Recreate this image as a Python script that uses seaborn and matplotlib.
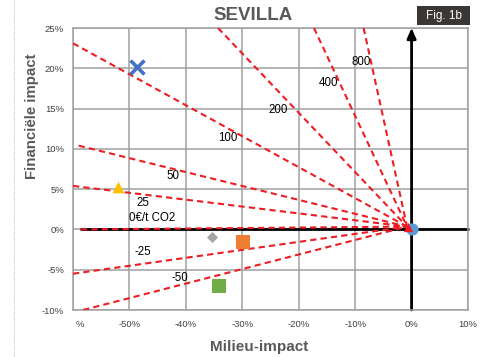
import matplotlib
matplotlib.use("Agg")
import matplotlib.pyplot as plt
import matplotlib.transforms as mtransforms
from matplotlib.lines import Line2D
from matplotlib.patches import Rectangle
import seaborn as sns
import pandas as pd

sns.set_theme(style="white")
plt.rcParams['font.family'] = ['Liberation Sans', 'DejaVu Sans']

# CO2 price lines (EUR/t) and the far end of each line (% impact)
co2_prices = [800, 400, 200, 100, 50, 25, 0, -25, -50]
line_end_x = [-8.5, -17.3, -34.3, -60.0, -59.0, -60.0, -58.6, -60.0, -58.2]
line_end_y = [25.0, 25.0, 25.0, 23.1, 10.4, 5.4, 0.0, -5.5, -10.0]
line_labels = ["800", "400", "200", "100", "50", "25", "0€/t CO2", "-25", "-50"]
label_x = [-8.85, -14.7, -23.7, -32.6, -42.3, -47.6, -46.0, -47.6, -41.1]
label_y = [20.8, 18.2, 14.8, 11.35, 6.64, 3.29, 1.43, -2.8, -6.0]

# common point where the price lines meet
origin_x, origin_y = -0.8, 0.35

# scenario points: milieu-impact (%) vs financiële impact (%)
scen_x = [-48.7, -52.1, -35.4, -29.8, -34.1, 0.0]
scen_y = [20.2, 5.3, -0.98, -1.6, -7.0, 0.0]
scen_color = ["#4472C4", "#FFC000", "#A5A5A5", "#ED7D31", "#70AD47", "#5B9BD5"]
scen_marker = ["x", "^", "D", "s", "s", "o"]
scen_size = [100, 71, 32, 88, 100, 78]

x_ticks = [-60, -50, -40, -30, -20, -10, 0, 10]
x_tick_labels = ["%", "-50%", "-40%", "-30%", "-20%", "-10%", "0%", "10%"]
y_ticks = [-10, -5, 0, 5, 10, 15, 20, 25]
y_tick_labels = ["-10%", "-5%", "0%", "5%", "10%", "15%", "20%", "25%"]

fig = plt.figure(figsize=(4.88, 3.57), dpi=100)
ax = fig.add_axes([73 / 488, 1 - 310 / 357, 395 / 488, 282 / 357])

grid_col = "#A0A0A0"
ax.set_xlim(-60, 10)
ax.set_ylim(-10, 25)
ax.set_xticks(x_ticks)
ax.set_yticks(y_ticks)
ax.set_xticklabels(x_tick_labels)
ax.set_yticklabels(y_tick_labels)
ax.grid(True, color=grid_col, lw=1.1)
ax.set_axisbelow(True)
for sp in ax.spines.values():
    sp.set_color(grid_col)
    sp.set_linewidth(1.1)
ax.tick_params(axis="both", length=0, labelsize=6.8, labelcolor="#404040")
ax.tick_params(axis="x", pad=7.5)
ax.tick_params(axis="y", pad=6.5)
first = ax.get_xticklabels()[0]
first.set_ha("left")
first.set_transform(first.get_transform()
                    + mtransforms.ScaledTranslation(3 / 100, 0, fig.dpi_scale_trans))
ax.set_xlabel("")
ax.set_ylabel("")

# main axes through the origin
ax.plot([-58.6, 10], [0, 0], color="black", lw=2.0, zorder=2, clip_on=False)
ax.annotate("", xy=(0, 25), xytext=(0, -10),
            arrowprops=dict(arrowstyle="-|>,head_length=0.5,head_width=0.22",
                            color="black", lw=2.0, shrinkA=0, shrinkB=0),
            zorder=2)

# iso-price lines
red = "#EE1D23"
for price, ex, ey in zip(co2_prices, line_end_x, line_end_y):
    sns.lineplot(x=[ex, origin_x], y=[ey, origin_y], ax=ax, color=red,
                 lw=1.5, linestyle=(0, (3, 2)), zorder=3, sort=False)
for txt, lx, ly in zip(line_labels, label_x, label_y):
    ax.text(lx, ly, txt, fontsize=8.3, color="black", ha="center", va="center",
            zorder=4)

# scenarios
for x, y, c, m, s in zip(scen_x, scen_y, scen_color, scen_marker, scen_size):
    if m == "x":
        sns.scatterplot(x=[x], y=[y], ax=ax, color=c, marker=m, s=s,
                        linewidth=2.6, zorder=5)
    else:
        sns.scatterplot(x=[x], y=[y], ax=ax, color=c, marker=m, s=s,
                        linewidth=0, zorder=5)
sns.scatterplot(x=[origin_x + 0.2], y=[origin_y], ax=ax, color=red, marker="^",
                s=45, linewidth=0, zorder=6)

ax.set_xlabel("")
ax.set_ylabel("")

# titles and labels
fig.text(253 / 488, 1 - 16 / 357, "SEVILLA", fontsize=13.5, fontweight="bold",
         color="#595959", ha="center", va="center")
fig.text(259 / 488, 1 - 347 / 357, "Milieu-impact", fontsize=11, fontweight="bold",
         color="#595959", ha="center", va="center")
fig.text(32 / 488, 1 - 116 / 357, "Financiële impact", fontsize=10.8,
         fontweight="bold", color="#595959", ha="center", va="center",
         rotation=90)

# figure badge
fig.add_artist(Rectangle((417 / 488, 1 - 25 / 357), 53 / 488, 19 / 357,
                         transform=fig.transFigure, facecolor="#3B3734",
                         edgecolor="none"))
fig.text(443.5 / 488, 1 - 15.5 / 357, "Fig. 1b", fontsize=8.5, color="white",
         ha="center", va="center")

# dotted page margin on the left
fig.add_artist(Line2D([14 / 488, 14 / 488], [0, 1], transform=fig.transFigure,
                      color="#C8C8C8", lw=0.8, linestyle=(0, (1, 1))))

fig.savefig("out.png", dpi=100)
